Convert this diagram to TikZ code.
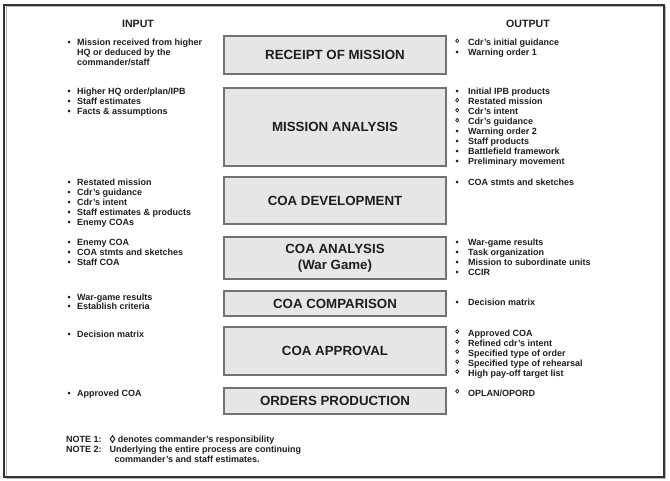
\documentclass[tikz,border=0pt]{standalone}
\usepackage{fontspec}
\setmainfont{Liberation Sans}
\usepackage{array}

\definecolor{boxfill}{HTML}{E6E6E6}
\definecolor{boxline}{HTML}{727272}
\definecolor{inktext}{HTML}{1E1E1E}
\definecolor{framedark}{HTML}{333333}

\newcommand{\inrows}[1]{\begin{tabular}{@{}w{c}{4pt}@{\hspace{6pt}}l@{}}#1\end{tabular}}
\newcommand{\outrows}[1]{\begin{tabular}{@{}w{c}{4pt}@{\hspace{9pt}}l@{}}#1\end{tabular}}
\newcommand{\bul}{•}
% small raised diamond (commander's responsibility)
\newcommand{\dia}{\tikz[baseline=0pt, x=1pt, y=1pt]
  \draw[inktext, line width=0.75pt] (0,6.6)--(1.5,4.8)--(0,3)--(-1.5,4.8)--cycle;}
\newcommand{\bigdia}{\tikz[baseline=0pt, x=1pt, y=1pt]
  \draw[inktext, line width=1pt] (0,6.6)--(2.3,3.3)--(0,0)--(-2.3,3.3)--cycle;}

\begin{document}
\begin{tikzpicture}[x=1pt, y=-1pt,
    stage/.style={draw=boxline, fill=boxfill, line width=1.1pt, minimum width=222,
      inner sep=0, align=center, text=inktext,
      font=\fontsize{13.3}{15.5}\selectfont\bfseries},
    head/.style={text=inktext, font=\fontsize{10.6}{12}\selectfont\bfseries},
    lst/.style={anchor=north west, inner sep=0, text=inktext,
      font=\fontsize{9}{10}\selectfont\bfseries}]
  \useasboundingbox (0,0) rectangle (670,481);
  % frame
  \draw[gray!55, line width=1.2] (6.5,6.5) rectangle (665.5,478.5);
  \draw[framedark, line width=2] (4.3,4.8) rectangle (663.8,477);

  \node[head] (inhead) at (138,24) {INPUT};
  \node[head] (outhead) at (528,24) {OUTPUT};

  % the stages
  \foreach \bname/\yc/\hgt/\btext in {
      rcpt/55/38/{RECEIPT OF MISSION},
      msna/127/78/{MISSION ANALYSIS},
      cdev/200.5/47/{COA DEVELOPMENT},
      cana/258/42/{COA ANALYSIS\\(War Game)},
      ccmp/303.5/25/{COA COMPARISON},
      capp/351/48/{COA APPROVAL},
      ordp/401/26/{ORDERS PRODUCTION}} {
    \node[stage, minimum height=\hgt] (\bname) at (335,\yc) {\btext};
  }

  % inputs
  \node[lst] (in1) at (67,38.8) {\inrows{\bul & Mission received from higher\\
      & HQ or deduced by the\\ & commander/staff}};
  \node[lst] (in2) at (67,87.8) {\inrows{\bul & Higher HQ order/plan/IPB\\
      \bul & Staff estimates\\ \bul & Facts \& assumptions}};
  \node[lst] (in3) at (67,178.4) {\inrows{\bul & Restated mission\\
      \bul & Cdr's guidance\\ \bul & Cdr's intent\\
      \bul & Staff estimates \& products\\ \bul & Enemy COAs}};
  \node[lst] (in4) at (67,238.4) {\inrows{\bul & Enemy COA\\
      \bul & COA stmts and sketches\\ \bul & Staff COA}};
  \node[lst] (in5) at (67,292.8) {\inrows{\bul & War-game results\\
      \bul & Establish criteria}};
  \node[lst] (in6) at (67,330.1) {\inrows{\bul & Decision matrix}};
  \node[lst] (in7) at (67,389.4) {\inrows{\bul & Approved COA}};

  % outputs
  \node[lst] (out1) at (455,38.5) {\outrows{\dia & Cdr's initial guidance\\
      \bul & Warning order 1}};
  \node[lst] (out2) at (455,87.8) {\outrows{\bul & Initial IPB products\\
      \dia & Restated mission\\ \dia & Cdr's intent\\ \dia & Cdr's guidance\\
      \bul & Warning order 2\\ \bul & Staff products\\
      \bul & Battlefield framework\\ \bul & Preliminary movement}};
  \node[lst] (out3) at (455,178) {\outrows{\bul & COA stmts and sketches}};
  \node[lst] (out4) at (455,238) {\outrows{\bul & War-game results\\
      \bul & Task organization\\ \bul & Mission to subordinate units\\
      \bul & CCIR}};
  \node[lst] (out5) at (455,298) {\outrows{\bul & Decision matrix}};
  \node[lst] (out6) at (455,329.2) {\outrows{\dia & Approved COA\\
      \dia & Refined cdr's intent\\ \dia & Specified type of order\\
      \dia & Specified type of rehearsal\\ \dia & High pay-off target list}};
  \node[lst] (out7) at (455,388.8) {\outrows{\dia & OPLAN/OPORD}};

  % notes
  \node[lst] (notes) at (66,435) {\begin{tabular}{@{}l@{\hspace{8pt}}l@{}}
      NOTE 1: & \bigdia\ denotes commander's responsibility\\
      NOTE 2: & Underlying the entire process are continuing\\
      & \hspace{5pt}commander's and staff estimates.\end{tabular}};
\end{tikzpicture}
\end{document}
